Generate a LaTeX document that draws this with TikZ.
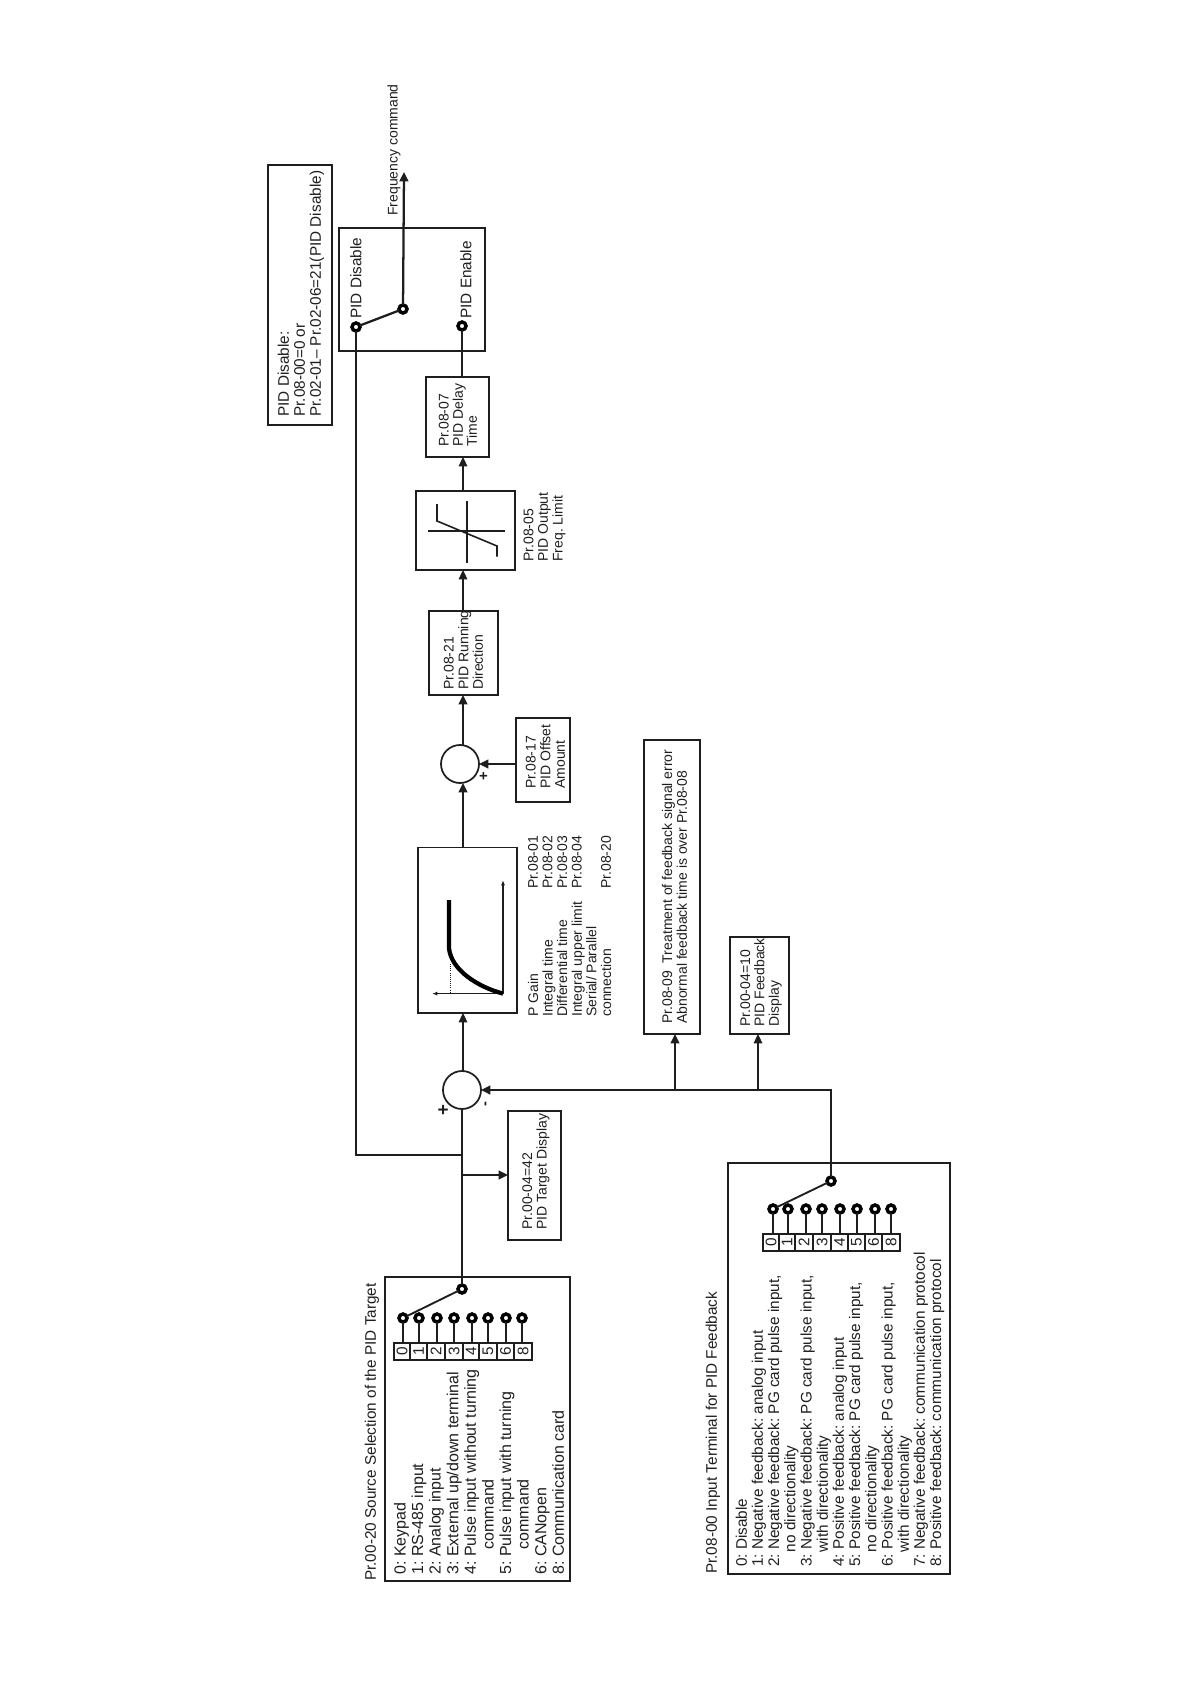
\documentclass[tikz,border=0pt]{standalone}
\usepackage{fontspec}
\setmainfont{Liberation Sans}
\usetikzlibrary{arrows.meta}
\definecolor{ink}{HTML}{1E1E1E}
\tikzset{
  thinb/.style={draw=ink,line width=1pt,inner sep=0pt,outer sep=0pt},
  thickb/.style={draw=ink,line width=1.8pt,inner sep=0pt,outer sep=0pt},
  wire/.style={draw=ink,line width=0.8pt},
  bus/.style={draw=ink,line width=1.7pt},
  arr/.style={-{Triangle[length=7pt,width=6.5pt]}},
  sumc/.style={circle,draw=ink,line width=1.3pt,minimum size=28.5pt,inner sep=0pt,outer sep=0pt},
  term/.style={circle,draw=black,line width=2.6pt,fill=white,minimum size=6pt,inner sep=0pt,outer sep=0pt},
  cell/.style={draw=ink,line width=0.8pt,inner sep=0pt,outer sep=0pt,text=ink},
  txt/.style={rotate=90,anchor=west,align=left,inner sep=0pt,text=ink},
}
\newcommand{\mybox}[6]{\node[#6,minimum width={(#4-#2)*0.75pt},minimum height={(#5-#3)*0.75pt}] (#1) at ({(#2+#4)/2},{(#3+#5)/2}) {};}
\newcommand{\mytext}[6]{\node[txt,font=\fontsize{#4}{#5}\selectfont\frenchspacing] (#1) at (#2,#3) {#6};}
\begin{document}
\begin{tikzpicture}[x=0.75pt,y=-0.75pt]
\useasboundingbox (0,0) rectangle (1191,1684);
% boxes
\mybox{note}{268}{165}{332}{425}{thinb}
\mybox{swbox}{339}{228}{485}{351}{thickb,line width=1.3pt}
\mybox{delay}{426}{377}{489}{457}{thinb}
\mybox{limit}{416}{491}{515}{570}{thinb,line width=1.2pt}
\mybox{dir}{429}{611}{498}{695}{thickb}
\mybox{offset}{516}{718}{570}{802}{thinb}
\mybox{pid}{418}{847.5}{517}{1013}{thinb,line width=1.2pt}
\mybox{err}{644}{740}{700}{1034}{thinb,line width=1.2pt}
\mybox{fbd}{730}{937}{789}{1034}{thickb}
\mybox{tgt}{508}{1111}{561}{1240}{thickb}
\mybox{srcbox}{385}{1277}{570}{1581}{thickb,line width=1.3pt}
\mybox{fbbox}{728}{1163}{950}{1574}{thinb}
\node[sumc] (sumA) at (462,1090) {};
\node[sumc] (sumB) at (460,764) {};
% main-line reference
\coordinate (m) at (463,0);
% switch at output
\node[term] (disT) at (356,327) {};
\node[term] (enT) at (462,326) {};
\node[term] (outP) at (403,309) {};
\coordinate (fout) at (404,172);
\draw[bus] (disT) -- (outP);
\draw[bus,arr] (outP) -- (fout);
% source selector
\node[term] (srcP) at (462,1289) {};
\foreach \d/\a/\b/\x in {0/394/410/403,1/410/427/419,2/427/445/437,3/445/463/454,4/463/479/472,5/479/497/488,6/497/514/506,8/514/532/522}{
  \mybox{srcC\d}{\a}{1343}{\b}{1360}{cell}
  \node[rotate=90,font=\fontsize{11.5}{13}\selectfont,text=ink] at (srcC\d) {\d};
  \node[term] (srcT\d) at (\x,1318) {};
  \draw[wire,line width=1.1pt] (srcT\d) -- (srcT\d |- srcC\d.north);
}
\draw[wire,line width=1.4pt] (srcT0) -- (srcP);
% feedback selector
\node[term] (fbP) at (831,1181) {};
\foreach \d/\a/\b/\x in {0/763/779/773,1/779/795/788,2/795/813/806,3/813/831/822,4/831/848/840,5/848/865/857,6/865/882/875,8/882/900/891}{
  \mybox{fbC\d}{\a}{1234}{\b}{1251}{cell}
  \node[rotate=90,font=\fontsize{11.5}{13}\selectfont,text=ink] at (fbC\d) {\d};
  \node[term] (fbT\d) at (\x,1209) {};
  \draw[wire,line width=1.1pt] (fbT\d) -- (fbT\d |- fbC\d.north);
}
\draw[wire,line width=1.4pt] (fbT0) -- (fbP);
% connectors
\coordinate (j1) at (463,1155);
\coordinate (j2) at (463,1175);
\draw[wire] (srcP) -- (sumA.south);
\draw[wire] (disT) |- (j1);
\draw[wire,line width=1.3pt,arr] (j2) -- (tgt.west |- j2);
\draw[wire,arr] (sumA.north -| m) -- (pid.south -| m);
\draw[bus,line width=1.4pt,arr] (pid.north -| m) -- (sumB.south -| m);
\draw[bus,line width=1.4pt,arr] (sumB.north -| m) -- (dir.south -| m);
\draw[bus,line width=1.4pt,arr] (offset.west |- sumB) -- (sumB.east);
\draw[wire,arr] (dir.north -| m) -- (limit.south -| m);
\draw[wire,arr] (limit.north -| m) -- (delay.south -| m);
\draw[wire] (delay.north -| enT) -- (enT);
\draw[bus,arr] (fbP) |- (sumA.east);
\coordinate (f1) at (675,1090);
\coordinate (f2) at (758,1090);
\draw[bus,line width=1.4pt,arr] (f1) -- (f1 |- err.south);
\draw[wire,arr] (f2) -- (f2 |- fbd.south);
% limiter graph
\draw[ink,line width=0.8pt] (428,531) -- (505,531);
\draw[ink,line width=1.4pt] (467,501) -- (467,563);
\draw[ink,line width=1.2pt] (437,504) -- (437,521) -- (497,546) -- (497,556.5);
% PID graph
\draw[ink,line width=0.8pt,-{Latex[length=4pt,width=3pt]}] (503,993.6) -- (503,880);
\draw[ink,line width=0.8pt,-{Latex[length=4pt,width=3pt]}] (503,993.6) -- (432,993.6);
\draw[ink,line width=0.6pt,densely dotted] (450,964) -- (450,993.6);
\draw[black,line width=3.2pt] (449,900) -- (449,948) .. controls (451,970) and (478,987) .. (503,993.6);
% texts
\mytext{tnote}{301}{417}{11.5}{12}{PID Disable:\\Pr.08-00=0 or\\Pr.02-01-- Pr.02-06=21(PID Disable)}
\mytext{tfreq}{394}{216}{10.5}{14}{Frequency command}
\mytext{tdis}{356}{319}{11.5}{14}{PID Disable}
\mytext{ten}{466}{319}{11.5}{14}{PID Enable}
\mytext{tdel}{458}{447}{10.5}{10.6}{Pr.08-07\\PID Delay\\Time}
\mytext{tlim}{544.5}{562}{10.5}{10.95}{Pr.08-05\\PID Output\\Freq. Limit}
\mytext{tdir}{463.5}{690}{10.5}{10.95}{Pr.08-21\\PID Running\\Direction}
\mytext{toff}{545.5}{789}{10.5}{10.95}{Pr.08-17\\PID Offset\\Amount}
\mytext{tgain}{569.5}{1017}{10.5}{10.95}{P Gain\\Integral time\\Differential time\\Integral upper limit\\Serial/ Parallel\\connection}
\mytext{tgainpr}{569.5}{889}{10.5}{10.95}{Pr.08-01\\Pr.08-02\\Pr.08-03\\Pr.08-04\\\mbox{}\\Pr.08-20}
\mytext{terr}{674.5}{1024}{10.5}{11.2}{Pr.08-09 \ Treatment of feedback signal error\\Abnormal feedback time is over Pr.08-08}
\mytext{tfbd}{761}{1027}{10.5}{10.8}{Pr.00-04=10\\PID Feedback\\Display}
\mytext{ttgt}{536}{1230}{10.5}{10.95}{Pr.00-04=42\\PID Target Display}
\mytext{tsrct}{372}{1581}{11.5}{14}{Pr.00-20 Source Selection of the PID Target}
\mytext{tsrc}{479}{1575}{12}{13.2}{0: Keypad\\1: RS-485 input\\2: Analog input\\3: External up/down terminal\\4: Pulse input without turning\\\hspace*{19pt}command\\5: Pulse input with turning\\\hspace*{19pt}command\\6: CANopen\\8: Communication card}
\mytext{tfbt}{713}{1574}{11.5}{14}{Pr.08-00 Input Terminal for PID Feedback}
\mytext{tfb}{840}{1567}{11.5}{12.15}{0: Disable\\1: Negative feedback: analog input\\2: Negative feedback: PG card pulse input,\\\hspace*{11pt}no directionality\\3: Negative feedback: PG card pulse input,\\\hspace*{11pt}with directionality\\4: Positive feedback: analog input\\5: Positive feedback: PG card pulse input,\\\hspace*{11pt}no directionality\\6: Positive feedback: PG card pulse input,\\\hspace*{11pt}with directionality\\7: Negative feedback: communication protocol\\8: Positive feedback: communication protocol}
% signs
\node[rotate=90,inner sep=0pt,font=\bfseries\fontsize{11}{12}\selectfont,text=ink] (pB) at (484,776) {+};
\node[rotate=90,inner sep=0pt,font=\bfseries\fontsize{14}{14}\selectfont,text=ink] (pA) at (444,1110) {+};
\node[rotate=90,inner sep=0pt,font=\bfseries\fontsize{11}{12}\selectfont,text=ink] (mA) at (487,1104) {-};
\end{tikzpicture}
\end{document}
